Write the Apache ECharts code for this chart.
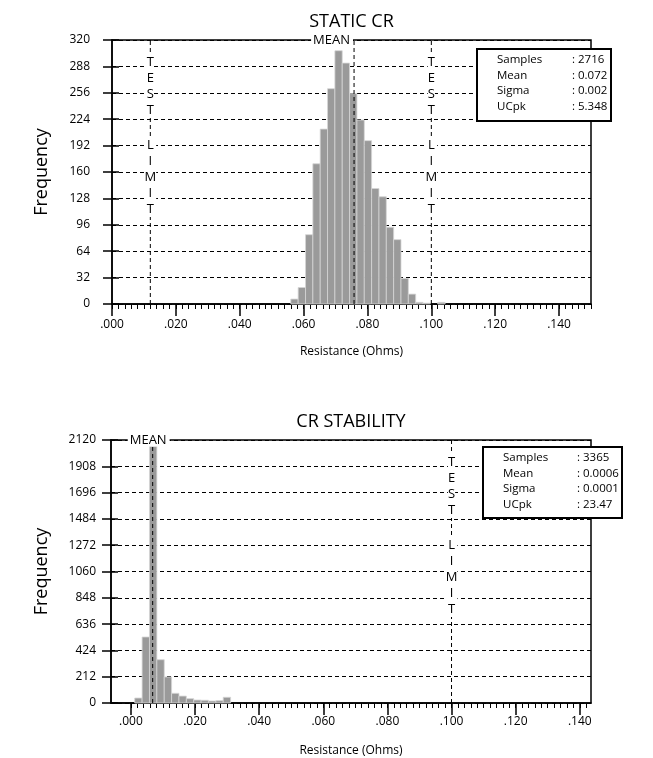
<!DOCTYPE html>
<html>
<head>
<meta charset="utf-8">
<script src="https://cdn.jsdelivr.net/npm/echarts@6/dist/echarts.min.js"></script>
<style>
  html, body { margin: 0; padding: 0; background: #fff; }
  #chart { width: 653px; height: 758px; }
</style>
</head>
<body>
<div id="chart"></div>
<script>
// ---- Static contact resistance histogram ----
const staticBinStart = [0.0560, 0.0583, 0.0606, 0.0629, 0.0652, 0.0675, 0.0698, 0.0721, 0.0744, 0.0767,
                        0.0790, 0.0813, 0.0836, 0.0859, 0.0882, 0.0905, 0.0928, 0.0951, 0.0974, 0.1020];
const staticCounts   = [6, 20, 84, 170, 212, 261, 307, 292, 255, 223,
                        198, 140, 130, 93, 78, 31, 12, 2, 1, 2];
const staticMean = 0.0758;
const staticLimits = [0.012, 0.100];
const staticStats = [['Samples', ': 2716'], ['Mean', ': 0.072'], ['Sigma', ': 0.002'], ['UCpk', ': 5.348']];

// ---- Contact resistance stability histogram ----
const stabilityBinStart = [0.0012, 0.0035, 0.0058, 0.0081, 0.0104, 0.0127, 0.0150,
                           0.0173, 0.0196, 0.0219, 0.0242, 0.0265, 0.0288];
const stabilityCounts   = [40, 532, 2070, 349, 210, 78, 56, 35, 24, 22, 16, 19, 46];
const stabilityMean = 0.0068;
const stabilityLimits = [0.100];
const stabilityStats = [['Samples', ': 3365'], ['Mean', ': 0.0006'], ['Sigma', ': 0.0001'], ['UCpk', ': 23.47']];

const binWidth = 0.0023;

// shared axis ticks
const xTickValues = [0, 0.02, 0.04, 0.06, 0.08, 0.10, 0.12, 0.14];
const xTickLabels = ['.000', '.020', '.040', '.060', '.080', '.100', '.120', '.140'];
const xMinorTicks = [];
for (let i = 0; i <= 75; i++) xMinorTicks.push(+(i * 0.002).toFixed(3));

const FONT = '"Open Sans", "Noto Sans", sans-serif';

const charts = [
  { name: 'STATIC CR', xMin: 0, xMax: 0.15, yMax: 320, yStep: 32,
    grid: { left: 112, top: 40, width: 479, height: 264 }, labelMargin: 22, xLabelMargin: 15,
    starts: staticBinStart, counts: staticCounts, mean: staticMean, meanShift: -22,
    limits: staticLimits, stats: staticStats, box: { x: 477, y: 49, w: 134, h: 72, col: 95 } },
  { name: 'CR STABILITY', xMin: -0.0062, xMax: 0.1435, yMax: 2120, yStep: 212,
    grid: { left: 111, top: 440, width: 480, height: 263 }, labelMargin: 15, xLabelMargin: 13,
    starts: stabilityBinStart, counts: stabilityCounts, mean: stabilityMean, meanShift: -4,
    limits: stabilityLimits, stats: stabilityStats, box: { x: 483, y: 447, w: 139, h: 71, col: 94 } }
];

const dash = [4, 3];
const option = { animation: false, grid: [], xAxis: [], yAxis: [], series: [] };

charts.forEach((c, gi) => {
  option.grid.push(Object.assign({ show: true, borderColor: '#000', borderWidth: 1.5 }, c.grid));
  // main x axis with labelled major ticks
  option.xAxis.push({
    type: 'value', gridIndex: gi, position: 'bottom', min: c.xMin, max: c.xMax,
    axisLine: { onZero: false, lineStyle: { color: '#000', width: 1.5 } },
    axisTick: { customValues: xTickValues, length: 12, lineStyle: { color: '#000', width: 1.5 } },
    axisLabel: {
      customValues: xTickValues, margin: c.xLabelMargin, color: '#000', fontSize: 12, fontFamily: FONT,
      formatter: v => xTickLabels[xTickValues.findIndex(t => Math.abs(t - v) < 1e-6)]
    },
    splitLine: { show: false }
  });
  // minor ticks
  option.xAxis.push({
    type: 'value', gridIndex: gi, position: 'bottom', min: c.xMin, max: c.xMax,
    axisLine: { show: false, onZero: false },
    axisTick: { customValues: xMinorTicks.filter(v => v >= c.xMin && v <= c.xMax), length: 5,
                lineStyle: { color: '#000', width: 1 } },
    axisLabel: { show: false }, splitLine: { show: false }
  });
  option.yAxis.push({
    type: 'value', gridIndex: gi, position: 'left', min: 0, max: c.yMax, interval: c.yStep,
    axisLine: { show: true, onZero: false, lineStyle: { color: '#000', width: 1.5 } },
    axisTick: { show: true, length: 9, lineStyle: { color: '#000', width: 1.5 } },
    axisLabel: { margin: c.labelMargin, color: '#000', fontSize: 12, fontFamily: FONT,
                 formatter: v => String(v) },
    splitLine: { show: true, lineStyle: { color: '#000', width: 1, type: dash } }
  });
  option.yAxis.push({
    type: 'value', gridIndex: gi, position: 'left', min: 0, max: c.yMax, interval: c.yStep,
    axisLine: { show: false, onZero: false },
    axisTick: { show: true, inside: true, length: 7, lineStyle: { color: '#000', width: 1.5 } },
    axisLabel: { show: false }, splitLine: { show: false }
  });

  const xi = gi * 2, yi = gi * 2;
  option.series.push({
    type: 'custom', xAxisIndex: xi, yAxisIndex: yi, z: 2,
    data: c.starts.map((s, i) => [s, s + binWidth, c.counts[i]]),
    encode: { x: [0, 1], y: 2 },
    renderItem: (params, api) => {
      const a = api.coord([api.value(0), api.value(2)]);
      const b = api.coord([api.value(1), 0]);
      return { type: 'rect',
        shape: { x: a[0], y: a[1], width: b[0] - a[0], height: b[1] - a[1] },
        style: { fill: '#9a9a9a', stroke: '#d6d6d6', lineWidth: 0.8 } };
    }
  });
  // mean and test limit lines
  [c.mean].concat(c.limits).forEach(v => {
    option.series.push({
      type: 'line', xAxisIndex: xi, yAxisIndex: yi, z: 3, symbol: 'none', silent: true,
      data: [[v, 0], [v, c.yMax]],
      lineStyle: { color: '#000', width: 1, type: dash }
    });
  });
});

const el = document.getElementById('chart');
const chart = echarts.init(el, null, { renderer: 'canvas' });
chart.setOption(option);

// text and annotation overlays placed from the axis scales
const graphics = [];
charts.forEach((c, gi) => {
  const g = c.grid;
  const cx = g.left + g.width / 2;
  const px = v => chart.convertToPixel({ xAxisIndex: gi * 2, yAxisIndex: gi * 2 }, [v, c.yMax]);
  graphics.push({ type: 'text', x: cx, y: g.top - 18, z: 10,
    style: { text: c.name, font: '18px ' + FONT, fill: '#000', align: 'center', verticalAlign: 'middle' } });
  graphics.push({ type: 'text', x: 42, y: g.top + g.height / 2, rotation: Math.PI / 2, z: 10,
    style: { text: 'Frequency', font: '18px ' + FONT, fill: '#000', align: 'center', verticalAlign: 'middle' } });
  graphics.push({ type: 'text', x: cx, y: g.top + g.height + 48, z: 10,
    style: { text: 'Resistance (Ohms)', font: '12px ' + FONT, fill: '#000', align: 'center', verticalAlign: 'middle' } });
  // MEAN tag on the top frame
  const mp = px(c.mean);
  graphics.push({ type: 'text', x: mp[0] + c.meanShift, y: g.top, z: 10,
    style: { text: 'MEAN', font: '13px ' + FONT, fill: '#000', align: 'center', verticalAlign: 'middle',
             backgroundColor: '#fff', padding: [0, 3, 0, 2] } });
  // TEST LIMIT letters down each limit line
  c.limits.forEach(v => {
    const lp = px(v);
    graphics.push({ type: 'text', x: lp[0], y: g.top + 14, z: 10,
      style: { text: 'T\nE\nS\nT', font: '13px ' + FONT, lineHeight: 16, fill: '#000', align: 'center',
               verticalAlign: 'top', backgroundColor: '#fff' } });
    graphics.push({ type: 'text', x: lp[0], y: g.top + 97, z: 10,
      style: { text: 'L\nI\nM\nI\nT', font: '13px ' + FONT, lineHeight: 16, fill: '#000', align: 'center',
               verticalAlign: 'top', backgroundColor: '#fff' } });
  });
  // statistics box
  const b = c.box;
  graphics.push({ type: 'rect', z: 10, shape: { x: b.x, y: b.y, width: b.w, height: b.h },
    style: { fill: '#fff', stroke: '#000', lineWidth: 2 } });
  c.stats.forEach((row, i) => {
    const ty = b.y + 11 + i * 15.5;
    graphics.push({ type: 'text', x: b.x + 20, y: ty, z: 11,
      style: { text: row[0], font: '11.5px ' + FONT, fill: '#000', align: 'left', verticalAlign: 'middle' } });
    graphics.push({ type: 'text', x: b.x + b.col, y: ty, z: 11,
      style: { text: row[1], font: '11.5px ' + FONT, fill: '#000', align: 'left', verticalAlign: 'middle' } });
  });
});
chart.setOption({ graphic: graphics });
</script>
</body>
</html>
